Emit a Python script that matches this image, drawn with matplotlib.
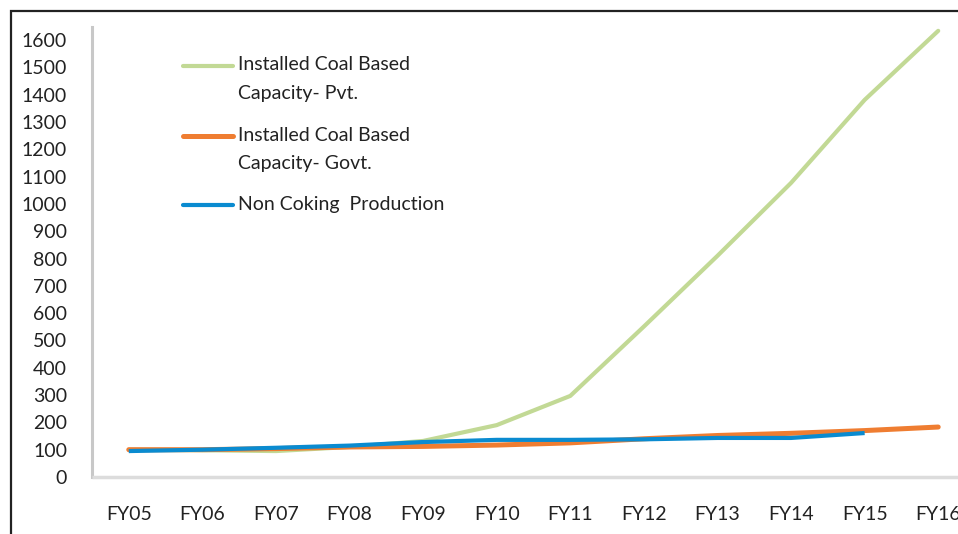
import matplotlib
matplotlib.use("Agg")
import matplotlib.pyplot as plt
from matplotlib.lines import Line2D
from matplotlib.patches import Rectangle

# Fiscal years on the category axis
years = ["FY05", "FY06", "FY07", "FY08", "FY09", "FY10",
         "FY11", "FY12", "FY13", "FY14", "FY15", "FY16"]

# Indexed series (FY05 = 100)
pvt_capacity = [100, 98, 95, 110, 132, 190, 297, 551, 810, 1077, 1381, 1634]
govt_capacity = [100, 100, 104, 110, 112, 117, 125, 140, 152, 160, 170, 183]
non_coking = [95, 100, 107, 115, 128, 136, 136, 138, 143, 143, 161]

y_ticks = list(range(0, 1601, 100))

series_labels = ["Installed Coal Based\nCapacity- Pvt.",
                 "Installed Coal Based\nCapacity- Govt.",
                 "Non Coking  Production"]

GREEN = "#c2d995"
ORANGE = "#ef7d31"
BLUE = "#0a8bd0"
FS = 14

W, H = 958, 534
fig = plt.figure(figsize=(W / 100, H / 100), dpi=100)
plt.rcParams["font.family"] = ["Lato", "DejaVu Sans"]


def fx(px):
    return px / W


def fy(py):
    return 1 - py / H


# Outer frame around the chart area
fig.add_artist(Rectangle((fx(11), fy(700)), fx(1200), fy(11) - fy(700),
                         transform=fig.transFigure, fill=False,
                         edgecolor="#222222", linewidth=1.6))

ax = fig.add_axes([fx(92), fy(477), fx(975) - fx(92), fy(27) - fy(477)])
x = list(range(len(years)))

ax.plot(x, pvt_capacity, color=GREEN, lw=3.0, solid_capstyle="round", zorder=2)
ax.plot(x, govt_capacity, color=ORANGE, lw=3.6, solid_capstyle="round", zorder=3)
ax.plot(x[:len(non_coking)], non_coking, color=BLUE, lw=3.0,
        solid_capstyle="butt", zorder=4)

ax.set_xlim(-0.5, len(years) - 0.5)
ax.set_ylim(0, 1648)
ax.set_xticks(x)
ax.set_xticklabels(years)
ax.set_yticks(y_ticks)
ax.set_yticklabels([str(v) for v in y_ticks])
ax.tick_params(axis="both", length=0, labelsize=FS, colors="#222222")
ax.tick_params(axis="y", pad=18)
ax.tick_params(axis="x", pad=21)

for side in ["top", "right"]:
    ax.spines[side].set_visible(False)
ax.spines["left"].set_color("#c8c8c8")
ax.spines["left"].set_linewidth(2.2)
ax.spines["bottom"].set_color("#dcdcdc")
ax.spines["bottom"].set_linewidth(2.5)
ax.spines["bottom"].set_capstyle("butt")

# Legend drawn beside the rising series
legend_rows = [(GREEN, 66, [65, 93], 3.0),
               (ORANGE, 136, [135, 163], 3.6),
               (BLUE, 205, [205], 3.0)]
for (color, hy, text_ys, lw), label in zip(legend_rows, series_labels):
    fig.add_artist(Line2D([fx(183), fx(233)], [fy(hy), fy(hy)],
                          transform=fig.transFigure, color=color, lw=lw,
                          solid_capstyle="round"))
    for line, ty in zip(label.split("\n"), text_ys):
        fig.text(fx(238), fy(ty), line, ha="left", va="center",
                 fontsize=FS, color="#222222")

fig.savefig("out.png", dpi=100)
